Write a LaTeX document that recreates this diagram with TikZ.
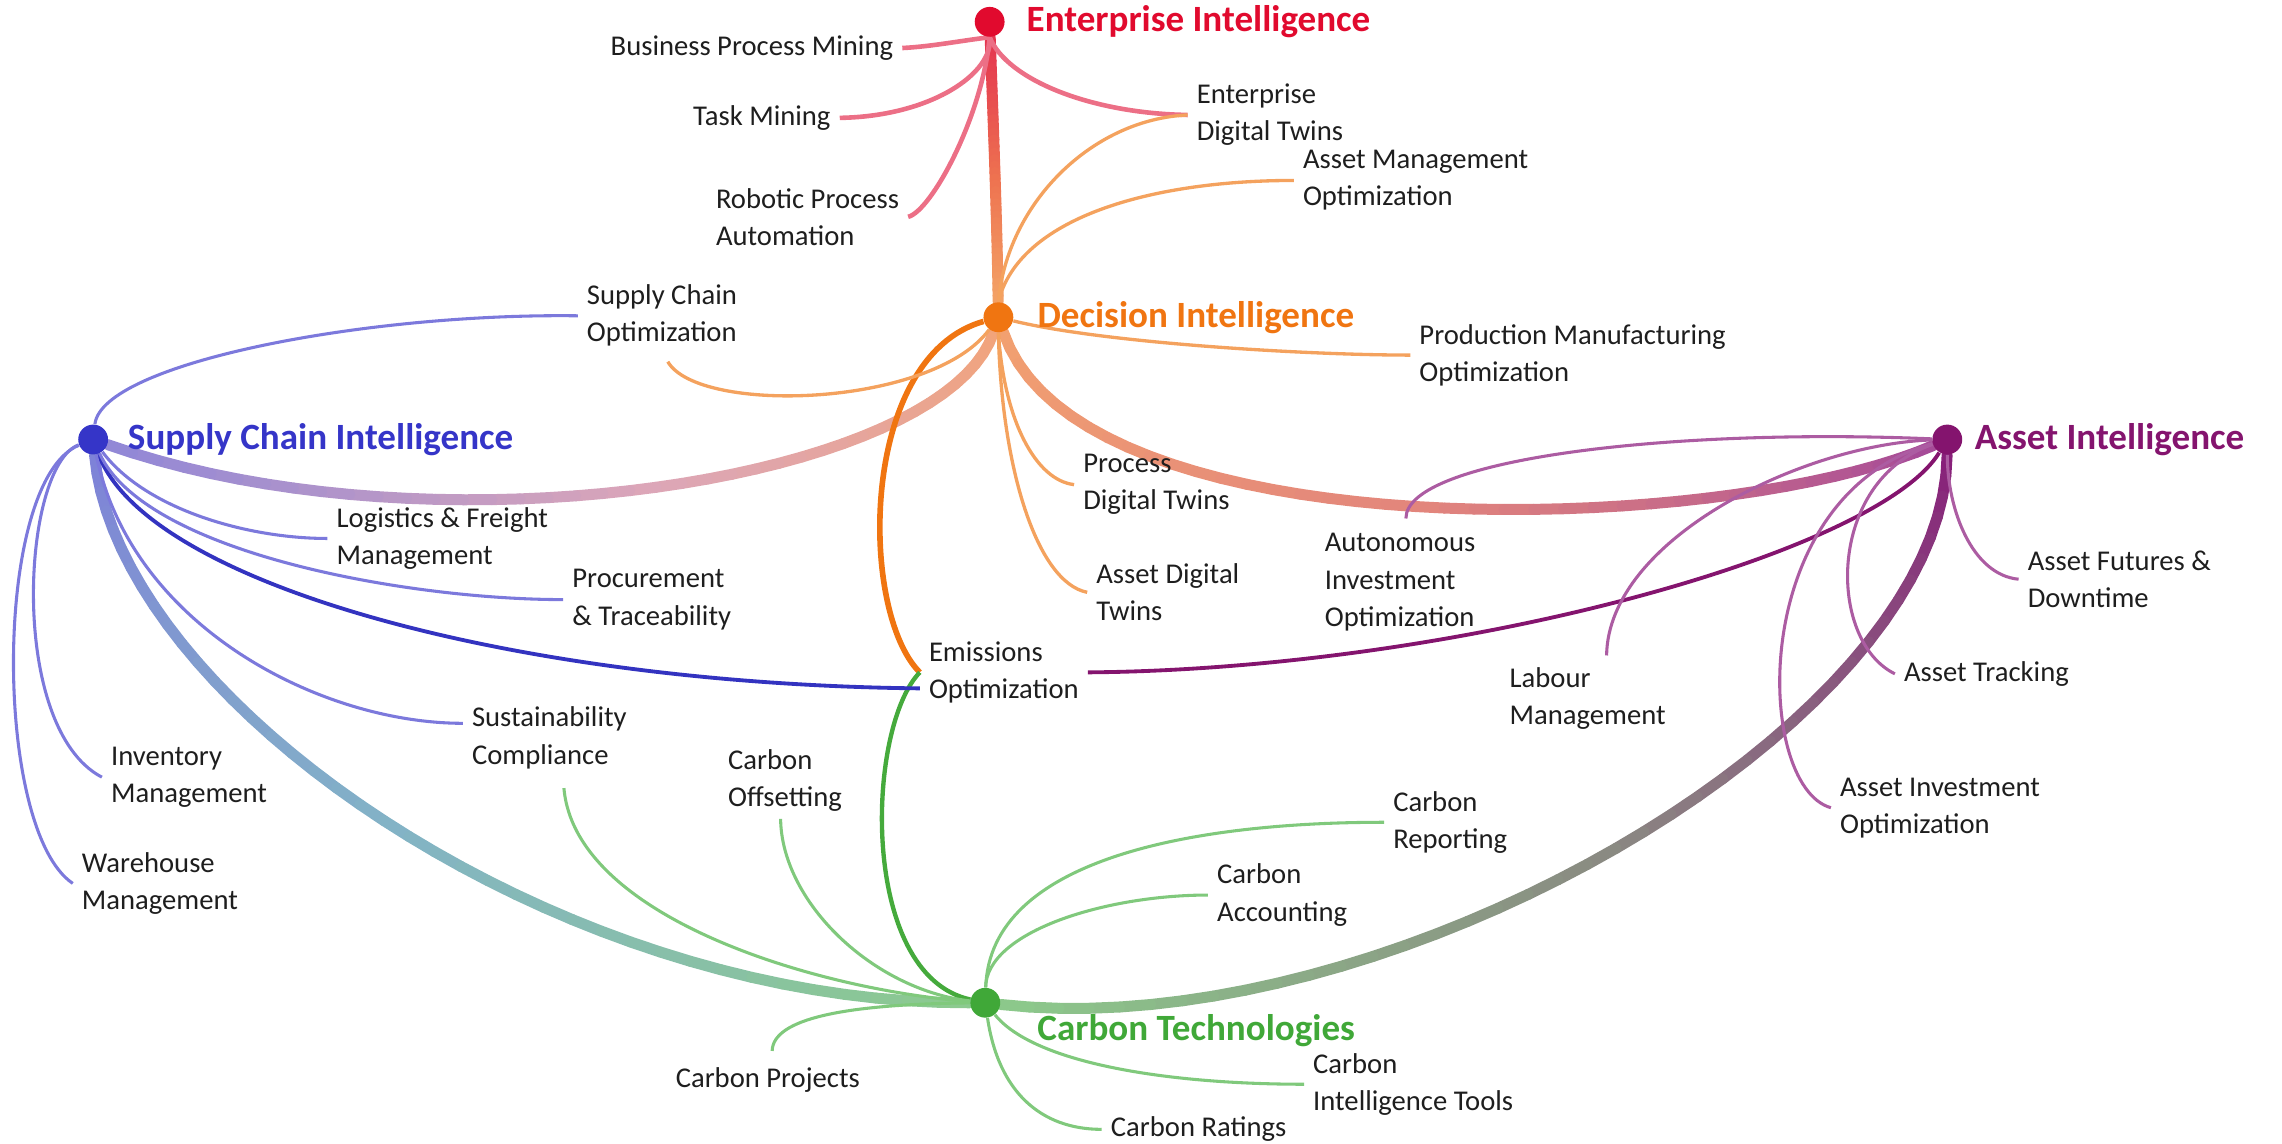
\documentclass[tikz,border=0pt]{standalone}
\usepackage{fontspec}
\setmainfont{Carlito}
\usetikzlibrary{positioning,calc,backgrounds}

% hub and link colours
\definecolor{entred}{HTML}{E10A2E}
\definecolor{entpink}{HTML}{EC6F86}
\definecolor{decorange}{HTML}{F07511}
\definecolor{declight}{HTML}{F4A25E}
\definecolor{supblue}{HTML}{3535C8}
\definecolor{suplight}{HTML}{7C79DC}
\definecolor{supdark}{HTML}{3333C0}
\definecolor{astpurple}{HTML}{84146E}
\definecolor{astlight}{HTML}{AC5CA2}
\definecolor{cargreen}{HTML}{40A838}
\definecolor{carlight}{HTML}{80C97C}
\definecolor{carmid}{HTML}{45AA3C}
\definecolor{leaftext}{HTML}{1E1E1E}
% trunk shades
\definecolor{trEntA}{HTML}{E43550}\definecolor{trEntB}{HTML}{EE7250}\definecolor{trEntC}{HTML}{F3A266}
\definecolor{trDsA}{HTML}{F2A47A}\definecolor{trDsB}{HTML}{DCA6B8}\definecolor{trDsC}{HTML}{8E86D8}
\definecolor{trDaA}{HTML}{F2A070}\definecolor{trDaB}{HTML}{E2857C}\definecolor{trDaC}{HTML}{A3489A}
\definecolor{trScA}{HTML}{7E82D8}\definecolor{trScB}{HTML}{83B3C6}\definecolor{trScC}{HTML}{8CCB8C}
\definecolor{trAcA}{HTML}{88207A}\definecolor{trAcB}{HTML}{8A8A82}\definecolor{trAcC}{HTML}{8CCB8C}

% shaded trunk: from, control 1, control 2, to, three colours, style
\newcommand{\shadelink}[8]{%
  \foreach \k [evaluate=\k as \tq using \k/40] in {0,...,40}
    \path (#1) .. controls #2 and #3 .. (#4) coordinate[pos=\tq] (sl\k);
  \foreach \k [evaluate=\k as \kk using int(\k+1), evaluate=\k as \pct using 100*\k/20] in {0,...,19}
    \draw[#8, color=#6!\pct!#5] (sl\k) -- (sl\kk);
  \foreach \k [evaluate=\k as \kk using int(\k+1), evaluate=\k as \pct using 100*(\k-20)/20] in {20,...,39}
    \draw[#8, color=#7!\pct!#6] (sl\k) -- (sl\kk);
}

\begin{document}
\begin{tikzpicture}[x=0.02cm, y=-0.02cm,
    hub/.style={circle, inner sep=0pt, minimum size=0.41cm},
    hub_label/.style={inner sep=0pt, font=\fontsize{14.5}{17}\selectfont\bfseries},
    leaf/.style={align=left, inner xsep=3.4pt, inner ysep=0pt, text=leaftext, font=\fontsize{11.2}{14.5}\selectfont},
    trunk/.style={line width=4.3pt, line cap=round},
    ent_link/.style={entpink, line width=1.8pt},
    dec_link/.style={declight, line width=1.3pt},
    sup_link/.style={suplight, line width=1.2pt},
    ast_link/.style={astlight, line width=1.2pt},
    car_link/.style={carlight, line width=1.2pt},
    cross_dec/.style={decorange, line width=2.2pt},
    cross_sup/.style={supdark, line width=1.5pt},
    cross_ast/.style={astpurple, line width=1.5pt},
    cross_car/.style={carmid, line width=1.7pt}
]
    \useasboundingbox (0,0) rectangle (1568,786);
    % Hubs
    \node[hub, fill=entred] (ent) at (680,15) {};
    \node[hub, fill=decorange] (dec) at (686,218) {};
    \node[hub, fill=supblue] (sup) at (64,302) {};
    \node[hub, fill=astpurple] (ast) at (1338,302) {};
    \node[hub, fill=cargreen] (car) at (677,689) {};
    \node[hub_label, text=entred, right=0.29cm of ent] (ent_txt) {Enterprise Intelligence};
    \node[hub_label, text=decorange, right=0.32cm of dec] (dec_txt) {Decision Intelligence};
    \node[hub_label, text=supblue, right=0.26cm of sup] (sup_txt) {Supply Chain Intelligence};
    \node[hub_label, text=astpurple, right=0.16cm of ast] (ast_txt) {Asset Intelligence};
    \node[hub_label, text=cargreen, below right=0cm and 0.56cm of car] (car_txt) {Carbon Technologies};
    % Topics
    \node[leaf, anchor=east] (bpm) at (620,33) {Business Process Mining};
    \node[leaf, anchor=east] (tm) at (577,81) {Task Mining};
    \node[leaf, anchor=east] (rpa) at (624,149) {Robotic Process\\Automation};
    \node[leaf, anchor=west] (edt) at (816,79) {Enterprise\\Digital Twins};
    \node[leaf, anchor=west] (amo) at (889,124) {Asset Management\\Optimization};
    \node[leaf, anchor=west] (pmo) at (969,244) {Production Manufacturing\\Optimization};
    \node[leaf, anchor=west] (sco) at (397,217) {Supply Chain\\Optimization};
    \node[leaf, anchor=west] (pdt) at (738,333) {Process\\Digital Twins};
    \node[leaf, anchor=west] (adt) at (747,407) {Asset Digital\\Twins};
    \node[leaf, anchor=west] (lfm) at (225,370) {Logistics \& Freight\\Management};
    \node[leaf, anchor=west] (pt) at (387,412) {Procurement\\\& Traceability};
    \node[leaf, anchor=west] (emi) at (632,462) {Emissions\\Optimization};
    \node[leaf, anchor=west] (sc) at (318,507) {Sustainability\\Compliance};
    \node[leaf, anchor=west] (im) at (70,534) {Inventory\\Management};
    \node[leaf, anchor=west] (wm) at (50,607) {Warehouse\\Management};
    \node[leaf, anchor=west] (aio) at (904,400) {Autonomous\\Investment\\Optimization};
    \node[leaf, anchor=west] (lm) at (1031,480) {Labour\\Management};
    \node[leaf, anchor=west] (aiop) at (1258,555) {Asset Investment\\Optimization};
    \node[leaf, anchor=west] (at) at (1302,463) {Asset Tracking};
    \node[leaf, anchor=west] (afd) at (1387,398) {Asset Futures \&\\Downtime};
    \node[leaf, anchor=west] (co) at (494,536) {Carbon\\Offsetting};
    \node[leaf, anchor=west] (cp) at (458,742) {Carbon Projects};
    \node[leaf, anchor=west] (cr) at (757,776) {Carbon Ratings};
    \node[leaf, anchor=west] (cit) at (896,745) {Carbon\\Intelligence Tools};
    \node[leaf, anchor=west] (ca) at (830,615) {Carbon\\Accounting};
    \node[leaf, anchor=west] (crp) at (951,565) {Carbon\\Reporting};

    \begin{pgfonlayer}{background}
    % Trunks
    \shadelink{ent}{(683,100)}{(685,150)}{dec}{trEntA}{trEntB}{trEntC}{trunk}
    \shadelink{dec}{(650,330)}{(300,385)}{sup}{trDsA}{trDsB}{trDsC}{trunk}
    \shadelink{dec}{(740,380)}{(1180,370)}{ast}{trDaA}{trDaB}{trDaC}{trunk}
    \shadelink{sup}{(80,480)}{(380,690)}{car}{trScA}{trScB}{trScC}{trunk}
    \shadelink{ast}{(1336,500)}{(950,720)}{car}{trAcA}{trAcB}{trAcC}{trunk}
    % Emissions links
    \draw[cross_dec] (dec) .. controls (590,245) and (590,420) .. (emi.west);
    \draw[cross_car] (emi.west) .. controls (595,500) and (590,670) .. (car);
    \draw[cross_sup] (sup) .. controls (100,400) and (350,470) .. ($(emi.west)+(0,11)$);
    \draw[cross_ast] (ast) .. controls (1290,380) and (1000,460) .. (emi.east);
    % Enterprise
    \draw[ent_link] (ent.south) .. controls (660,28) and (640,32) .. (bpm.east);
    \draw[ent_link] (ent.south) .. controls (683,50) and (640,80) .. (tm.east);
    \draw[ent_link] (ent.south) .. controls (675,80) and (640,145) .. (rpa.east);
    \draw[ent_link] (ent.south) .. controls (692,55) and (750,78) .. (edt.west);
    % Decision
    \draw[dec_link] (dec.north) .. controls (692,140) and (750,82) .. (edt.west);
    \draw[dec_link] (dec.north) .. controls (700,150) and (790,124) .. (amo.west);
    \draw[dec_link] (dec) .. controls (760,236) and (900,244) .. (pmo.west);
    \draw[dec_link] (dec) .. controls (640,280) and (480,285) .. ($(sco.south)+(4,10)$);
    \draw[dec_link] (dec.south) .. controls (690,290) and (712,330) .. (pdt.west);
    \draw[dec_link] (dec.south) .. controls (688,320) and (712,400) .. (adt.west);
    % Supply chain
    \draw[sup_link] (sup) .. controls (70,250) and (250,215) .. (sco.west);
    \draw[sup_link] (sup) .. controls (100,350) and (170,370) .. (lfm.west);
    \draw[sup_link] (sup) .. controls (100,380) and (280,412) .. (pt.west);
    \draw[sup_link] (sup) .. controls (90,430) and (220,497) .. ($(sc.west)+(0,-10)$);
    \draw[sup_link] (sup) .. controls (15,320) and (5,500) .. (im.west);
    \draw[sup_link] (sup) .. controls (-5,330) and (-5,570) .. (wm.west);
    % Asset
    \draw[ast_link] (ast) .. controls (1150,294) and (966,315) .. ($(aio.north)+(4,-10)$);
    \draw[ast_link] (ast) .. controls (1240,305) and (1105,370) .. ($(lm.north)+(13,-8)$);
    \draw[ast_link] (ast) .. controls (1200,340) and (1205,540) .. (aiop.west);
    \draw[ast_link] (ast) .. controls (1255,330) and (1255,440) .. (at.west);
    \draw[ast_link] (ast) .. controls (1338,350) and (1355,395) .. (afd.west);
    % Carbon
    \draw[car_link] (car) .. controls (560,680) and (395,630) .. ($(sc.south)+(10,13)$);
    \draw[car_link] (car) .. controls (600,680) and (537,620) .. ($(co.south)+(-3,5)$);
    \draw[car_link] (car) .. controls (580,690) and (531,700) .. ($(cp.north)+(3,-11)$);
    \draw[car_link] (car) .. controls (686,750) and (715,776) .. (cr.west);
    \draw[car_link] (car) .. controls (710,730) and (800,745) .. (cit.west);
    \draw[car_link] (car) .. controls (678,640) and (760,615) .. (ca.west);
    \draw[car_link] (car) .. controls (680,590) and (820,565) .. (crp.west);
    \end{pgfonlayer}
\end{tikzpicture}
\end{document}
